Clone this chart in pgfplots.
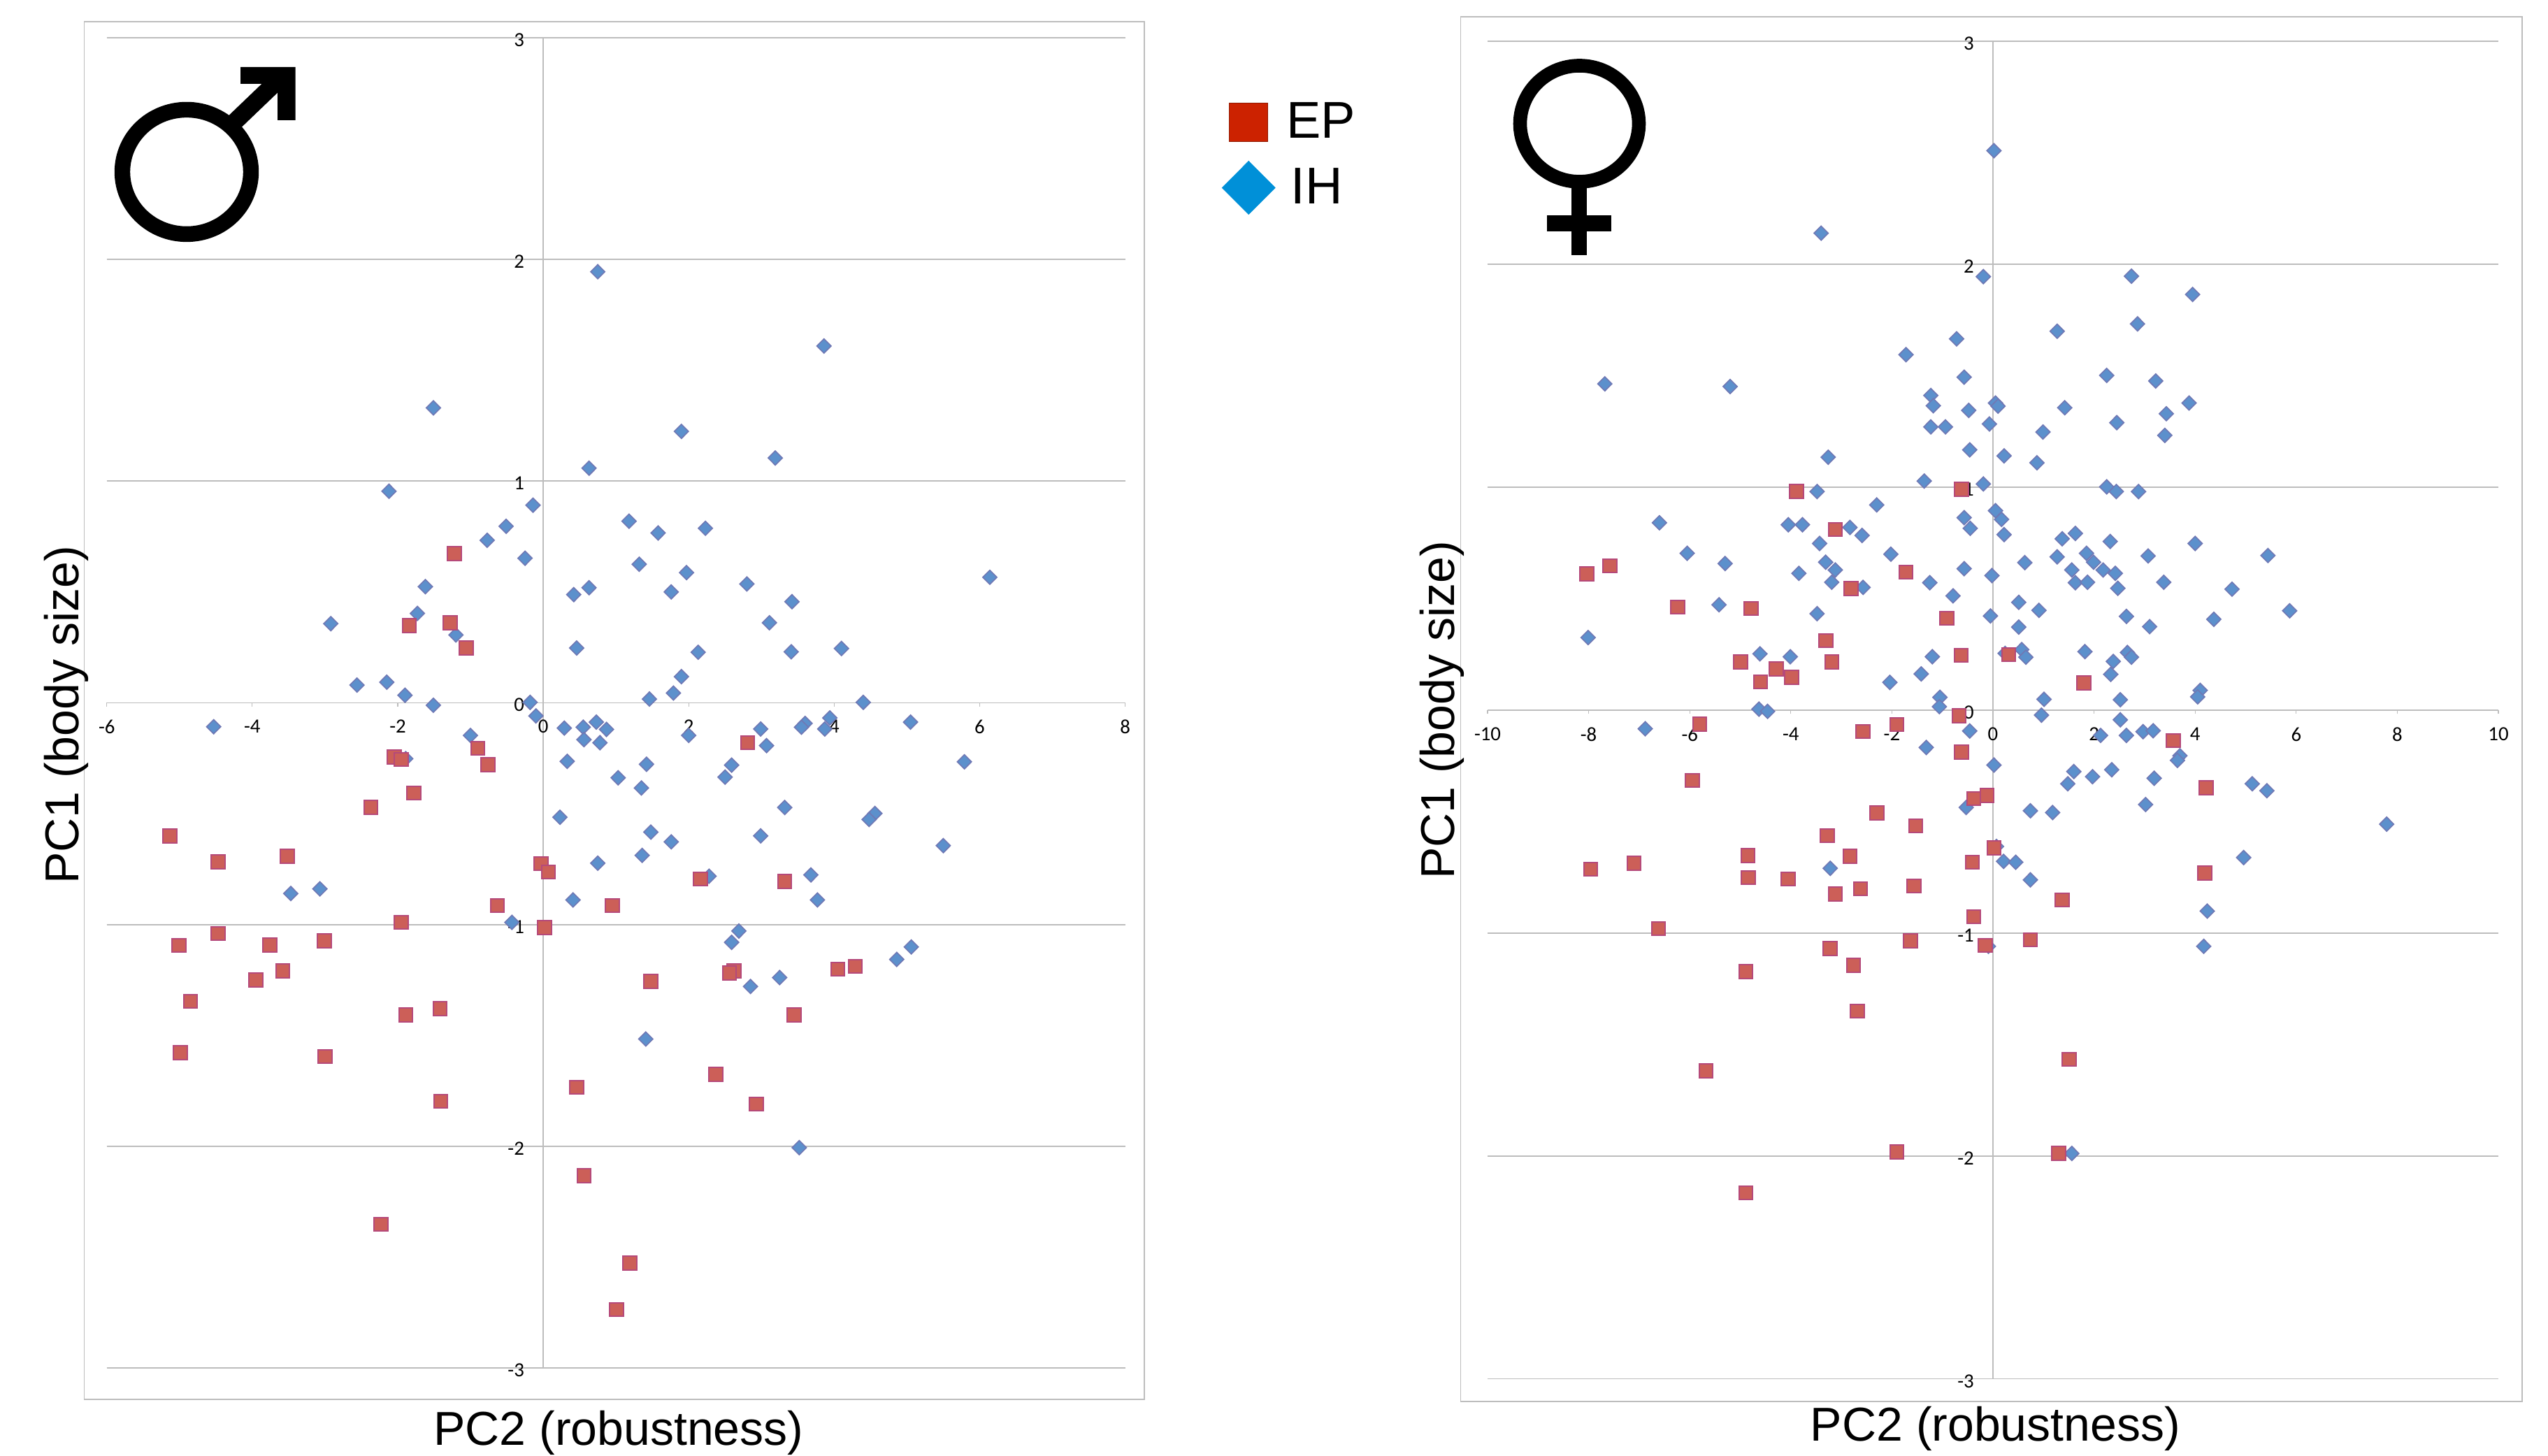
\documentclass[border=0pt]{standalone}
\usepackage{pgfplots}
\pgfplotsset{compat=1.18}
\usepackage{fontspec}
\setmainfont{Liberation Sans}
\newfontfamily\carlito{Carlito}
\definecolor{ihfill}{HTML}{5C90CC}
\definecolor{ihedge}{HTML}{7078B4}
\definecolor{epfill}{HTML}{CC5F58}
\definecolor{epedge}{HTML}{B5497A}
\definecolor{gridc}{HTML}{BDBDBD}
\definecolor{lgr}{HTML}{CC2200}
\definecolor{lgb}{HTML}{0090D8}

\pgfplotstableread{
x y
0.75 1.944
3.86 1.609
-1.51 1.33
1.90 1.224
3.19 1.104
0.63 1.058
-2.12 0.954
-0.14 0.891
-0.51 0.796
-0.77 0.733
1.18 0.819
1.58 0.766
2.23 0.787
-0.25 0.652
1.32 0.625
1.97 0.587
0.63 0.519
0.42 0.488
1.76 0.500
2.80 0.536
3.42 0.456
6.14 0.566
-1.62 0.524
-1.73 0.403
-2.92 0.357
-1.20 0.306
0.46 0.247
3.11 0.361
2.13 0.228
3.41 0.230
4.10 0.245
1.90 0.118
1.79 0.044
1.46 0.017
-2.56 0.080
-2.15 0.093
-1.90 0.034
-1.51 -0.011
4.40 0.002
-0.18 0.002
-0.10 -0.059
3.94 -0.068
5.05 -0.087
-4.53 -0.108
0.29 -0.114
0.55 -0.110
0.73 -0.087
0.87 -0.120
2.99 -0.118
3.60 -0.093
3.55 -0.110
3.87 -0.118
-1.00 -0.147
0.56 -0.166
0.78 -0.180
2.00 -0.147
3.07 -0.193
-1.89 -0.252
0.33 -0.264
1.42 -0.277
2.59 -0.281
5.79 -0.266
1.03 -0.338
2.50 -0.335
1.35 -0.384
3.32 -0.472
0.23 -0.516
4.56 -0.499
4.48 -0.526
1.48 -0.583
1.76 -0.627
2.99 -0.600
5.50 -0.644
1.36 -0.688
0.75 -0.723
2.28 -0.782
3.68 -0.776
-3.07 -0.839
-3.47 -0.860
0.41 -0.889
3.77 -0.889
-0.43 -0.990
2.69 -1.029
2.59 -1.080
5.06 -1.101
4.86 -1.157
3.25 -1.239
2.85 -1.279
1.41 -1.516
3.52 -2.006
}\maleIH
\pgfplotstableread{
x y
-1.22 0.673
-1.84 0.348
-1.28 0.361
-1.06 0.247
-0.90 -0.205
-2.05 -0.245
-1.95 -0.256
-0.76 -0.279
-1.78 -0.407
-2.37 -0.472
2.81 -0.180
-5.13 -0.600
-4.47 -0.717
-3.52 -0.692
-0.03 -0.725
0.07 -0.763
2.16 -0.795
3.32 -0.805
-0.63 -0.914
0.95 -0.914
-1.95 -0.990
0.02 -1.013
-4.47 -1.040
-5.01 -1.094
-3.76 -1.092
-3.01 -1.073
-3.58 -1.208
-3.95 -1.249
-4.85 -1.346
4.29 -1.189
4.05 -1.201
2.62 -1.208
2.56 -1.218
1.48 -1.256
-1.42 -1.379
-1.89 -1.407
3.45 -1.407
-4.99 -1.577
-3.00 -1.595
2.37 -1.675
0.46 -1.734
-1.41 -1.797
2.93 -1.809
0.56 -2.132
-2.23 -2.352
1.19 -2.526
1.01 -2.736
}\maleEP
\pgfplotstableread{
x y
0.02 2.509
-3.40 2.139
-0.19 1.944
2.74 1.946
3.95 1.864
2.86 1.732
1.27 1.699
-0.72 1.665
-1.72 1.594
-0.57 1.493
2.25 1.501
3.22 1.476
-7.68 1.463
-5.20 1.451
-1.23 1.411
-1.18 1.365
0.05 1.377
0.10 1.363
1.42 1.356
3.88 1.377
-0.48 1.344
3.43 1.329
2.45 1.289
-0.07 1.283
-1.23 1.270
-0.94 1.270
0.99 1.247
3.40 1.232
-0.46 1.167
-3.26 1.134
0.22 1.140
0.87 1.109
-1.36 1.027
-0.19 1.014
2.25 1.001
2.44 0.980
2.88 0.980
-3.48 0.980
-2.30 0.920
0.05 0.894
-0.57 0.863
0.17 0.855
-6.60 0.840
-4.05 0.831
-3.77 0.831
-2.83 0.819
-0.45 0.815
-2.59 0.783
0.22 0.787
1.63 0.792
1.37 0.768
2.32 0.756
-3.43 0.747
4.00 0.747
-6.05 0.703
-2.02 0.699
1.85 0.703
1.27 0.687
3.07 0.691
5.44 0.693
-5.30 0.657
-3.31 0.663
0.63 0.661
1.99 0.663
-3.12 0.628
-0.57 0.634
1.56 0.628
2.18 0.628
-3.84 0.613
-0.02 0.603
2.42 0.613
-3.19 0.573
-1.25 0.571
-2.57 0.550
1.63 0.571
1.87 0.573
3.38 0.573
2.47 0.546
4.73 0.542
-0.79 0.512
0.51 0.483
-5.42 0.472
0.91 0.447
5.87 0.445
-3.48 0.432
-0.05 0.422
2.64 0.420
4.37 0.407
0.51 0.372
3.10 0.374
-8.01 0.325
0.57 0.271
1.82 0.262
2.66 0.258
-4.61 0.252
-4.01 0.239
-1.20 0.239
2.74 0.237
0.65 0.237
0.24 0.254
2.38 0.218
-1.42 0.162
2.33 0.160
-2.04 0.124
-1.05 0.057
1.01 0.048
2.52 0.046
4.10 0.088
4.05 0.059
-1.06 0.015
-4.63 0.004
-4.46 -0.006
0.96 -0.023
2.52 -0.044
-6.88 -0.084
-0.46 -0.094
2.13 -0.114
2.64 -0.114
2.97 -0.097
3.17 -0.093
-1.32 -0.168
0.02 -0.247
1.60 -0.276
2.35 -0.268
1.97 -0.299
3.19 -0.306
3.70 -0.205
3.65 -0.226
1.48 -0.331
5.13 -0.331
5.42 -0.362
3.02 -0.424
-0.53 -0.437
0.74 -0.452
1.18 -0.460
7.79 -0.512
0.07 -0.612
0.21 -0.679
0.45 -0.683
-3.22 -0.710
4.96 -0.662
0.74 -0.762
4.24 -0.902
4.17 -1.060
-0.09 -1.060
1.56 -1.989
}\femaleIH
\pgfplotstableread{
x y
-3.89 0.980
-0.62 0.991
-3.12 0.810
-1.72 0.619
-7.58 0.647
-8.04 0.611
-2.81 0.544
-6.24 0.462
-4.79 0.456
-0.91 0.412
-3.31 0.311
-0.63 0.246
0.31 0.248
-4.99 0.216
-3.19 0.216
-4.29 0.185
-3.98 0.147
-4.60 0.126
1.80 0.122
-0.67 -0.025
-5.80 -0.063
-1.90 -0.065
-2.57 -0.096
3.57 -0.137
-0.62 -0.189
-5.95 -0.316
4.22 -0.349
-0.12 -0.383
-0.38 -0.397
-2.30 -0.462
-1.53 -0.520
-3.28 -0.564
0.02 -0.618
-4.85 -0.652
-2.83 -0.656
-7.10 -0.687
-0.41 -0.683
-7.96 -0.714
4.19 -0.731
-4.84 -0.752
-4.05 -0.758
-1.56 -0.789
-2.62 -0.802
-3.12 -0.825
1.37 -0.852
-0.38 -0.927
-6.62 -0.981
0.74 -1.031
-1.63 -1.035
-0.15 -1.056
-3.22 -1.069
-2.76 -1.146
-4.89 -1.173
-2.68 -1.350
1.51 -1.567
-5.68 -1.619
-1.90 -1.982
1.30 -1.989
-4.89 -2.166
}\femaleEP

\pgfplotsset{
  common/.style={
    scale only axis, clip=false,
    axis x line=middle, axis y line=middle,
    axis line style={-, draw=gridc, line width=0.3pt},
    hide obscured x ticks=false, hide obscured y ticks=false,
    tick align=outside, major tick length=1.4pt,
    tick style={draw=gridc, line width=0.3pt},
    ymin=-3, ymax=3,
    ytick={-3,-2,-1,0,1,2,3},
    yticklabels={-3,-2,-1,0,1,2,3},
    ymajorgrids,
    grid style={draw=gridc, line width=0.45pt},
    ticklabel style={font=\carlito\fontsize{7.2}{8}\selectfont, text=black, inner sep=0pt},
    xticklabel style={yshift=-4.6pt},
    yticklabel style={xshift=-5.2pt, yshift=-0.8pt},
  },
  ih/.style={only marks, forget plot, mark=diamond*, mark size=2.55pt,
    mark options={xscale=1.33, fill=ihfill, draw=ihedge, line width=0.4pt}},
  ep/.style={only marks, forget plot, mark=square*, mark size=2.45pt,
    mark options={fill=epfill, draw=epedge, line width=0.5pt}},
}

\begin{document}
\begin{tikzpicture}[x=1pt,y=1pt]
\path[use as bounding box] (0,0) rectangle (911.25pt,520.75pt);
\begin{scope}[x=0.25pt,y=-0.25pt,shift={(0pt,520.75pt)}]
  % frames
  \draw[gridc, line width=0.45pt] (120.5,31) rectangle (1637,2002);
  \draw[gridc, line width=0.45pt] (2089.5,24) rectangle (3608,2005);
  % male symbol
  \draw[black, line width=5.6pt] (267,246) ellipse [x radius=92, y radius=89];
  \draw[black, line width=6.2pt] (335,175) -- (408,105);
  \fill[black] (344,96) -- (422.5,96) -- (422.5,172) -- (397,172) -- (397,120) -- (344,120) -- cycle;
  % female symbol
  \draw[black, line width=4.9pt] (2259.5,177) ellipse [x radius=85, y radius=83];
  \fill[black] (2248,262) rectangle (2270,365);
  \fill[black] (2213,308) rectangle (2305,331);
  % axis titles
  \node[font=\fontsize{17}{20}\selectfont, inner sep=0pt] at (885,2050) {PC2 (robustness)};
  \node[font=\fontsize{17}{20}\selectfont, inner sep=0pt] at (2854.5,2044) {PC2 (robustness)};
  \node[font=\fontsize{17}{20}\selectfont, inner sep=0pt, rotate=90] at (95,1023) {PC1 (body size)};
  \node[font=\fontsize{17}{20}\selectfont, inner sep=0pt, rotate=90] at (2063,1016) {PC1 (body size)};
\end{scope}

\begin{axis}[common, at={(38.18pt,31.43pt)}, anchor=south west,
  width=364.2pt, height=475.9pt,
  xmin=-6, xmax=8,
  xtick={-6,-4,-2,0,2,4,6,8},
  xticklabels={-6,-4,-2,0,2,4,6,8},
  legend style={at={(395.7pt,455.8pt)}, anchor=north west, draw=none, fill=none,
    font=\fontsize{18.5}{21}\selectfont, row sep=5.7pt,
    nodes={inner sep=1pt}},
  legend cell align=left,
]
\addplot[ih] table {\maleIH};
\addplot[ep] table {\maleEP};
\addlegendimage{only marks, mark=square*, mark size=6.9pt, mark options={fill=lgr, draw=lgr!70!black, line width=0.3pt}}
\addlegendentry{\hspace{3pt}EP}
\addlegendimage{only marks, mark=diamond*, mark size=9.5pt, mark options={xscale=1.33, fill=lgb, draw=lgb, line width=0.2pt}}
\addlegendentry{\hspace{4.6pt}IH}
\end{axis}

\begin{axis}[common, at={(532pt,27.6pt)}, anchor=south west,
  width=361.5pt, height=478.4pt,
  xmin=-10, xmax=10,
  xtick={-10,-8,-6,-4,-2,0,2,4,6,8,10},
  xticklabels={-10,-8,-6,-4,-2,0,2,4,6,8,10},
]
\addplot[ih] table {\femaleIH};
\addplot[ep] table {\femaleEP};
\end{axis}
\end{tikzpicture}
\end{document}
